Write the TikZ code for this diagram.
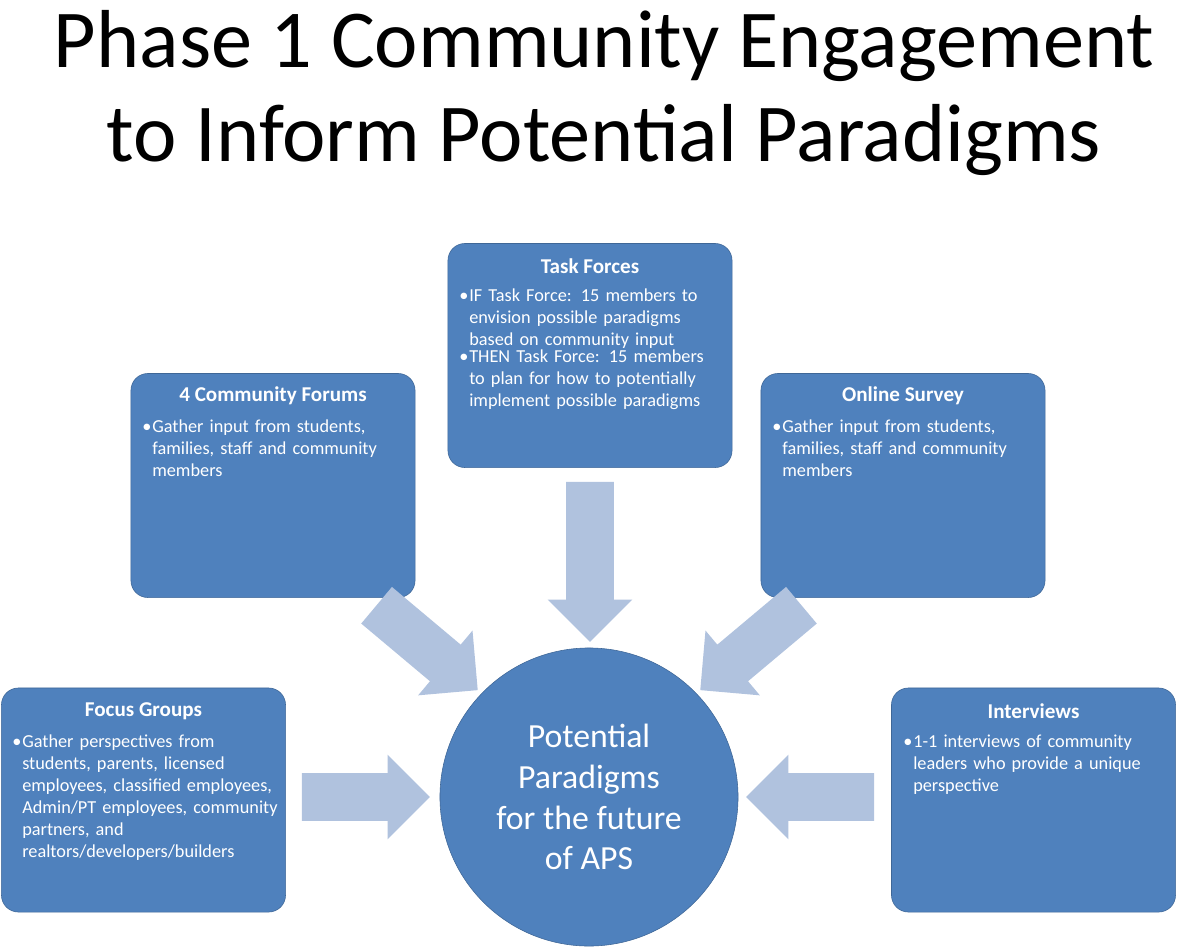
\documentclass[tikz,border=0pt]{standalone}
\usepackage{fontspec}
\setmainfont{Carlito}
\usetikzlibrary{shapes.arrows}
\definecolor{boxblue}{HTML}{4F81BD}
\definecolor{arrowblue}{HTML}{B0C2DE}
\newcommand{\bitem}[1]{\makebox[0.25cm][l]{\textbullet}\parbox[t]{6.4cm}{\raggedright #1}\par}
\tikzset{
  box/.style={draw=boxblue!80!black, fill=boxblue, rounded corners=12pt, minimum width=7.1cm, minimum height=5.6cm, inner sep=0},
  head/.style={text=white, font=\fontsize{15}{18}\selectfont\bfseries},
  body/.style={text=white, text width=6.75cm, align=left, font=\fontsize{13}{15.6}\selectfont, anchor=north west, inner sep=0},
  flow/.style={single arrow, fill=arrowblue, minimum width=2.1cm, single arrow head extend=0.46cm, inner sep=0, single arrow head indent=0}
}
\newcommand{\shaft}{\rule{0pt}{1.18cm}}
\begin{document}
\begin{tikzpicture}[x=0.025cm, y=-0.025cm]
\useasboundingbox (0,0) rectangle (1198,950);
\node (title) at (604,93) [align=center, font=\fontsize{58.5}{67}\selectfont] {Phase 1 Community Engagement\\to Inform Potential Paradigms};

\node[box] (task) at (590,355.5) {};
\node[box] (forum) at (273,485.5) {};
\node[box] (survey) at (903,485.5) {};
\node[box] (focus) at (143.5,800) {};
\node[box] (interv) at (1033.5,800) {};
\node[circle, draw=boxblue!80!black, fill=boxblue, minimum size=7.45cm, align=center, text=white, font=\fontsize{24}{29}\selectfont] (center) at (589,797) {Potential\\Paradigms\\for the future\\of APS};

\node[head] (taskh) at (590,266) {Task Forces};
\node[body] (taskb) at (459,289) {\bitem{IF Task Force: 15 members to envision possible paradigms based on community input}\bitem{THEN Task Force: 15 members to plan for how to potentially implement possible paradigms}};
\node[head] (forumh) at (273,396) {4 Community Forums};
\node[body] (forumb) at (142,420) {\bitem{Gather input from students, families, staff and community members}};
\node[head] (surveyh) at (903,396) {Online Survey};
\node[body] (surveyb) at (772,420) {\bitem{Gather input from students, families, staff and community members}};
\node[head] (focush) at (143.5,711) {Focus Groups};
\node[body] (focusb) at (12,735) {\bitem{Gather perspectives from students, parents, licensed employees, classified employees, Admin/PT employees, community partners, and realtors/developers/builders}};
\node[head] (intervh) at (1033.5,711) {Interviews};
\node[body] (intervb) at (903,735) {\bitem{1-1 interviews of community leaders who provide a unique perspective}};

\node[flow, minimum height=4cm, rotate=-90] (a1) at (590,550) {\shaft};
\node[flow, minimum height=3.3cm, rotate=-40] (a2) at (418,640) {\shaft};
\node[flow, minimum height=3.3cm, rotate=-140] (a3) at (760,640) {\shaft};
\node[flow, minimum height=3.2cm, minimum width=2cm] (a4) at (354,797) {\shaft};
\node[flow, minimum height=3.2cm, minimum width=2cm, rotate=180] (a5) at (822,797) {\shaft};
\end{tikzpicture}
\end{document}
